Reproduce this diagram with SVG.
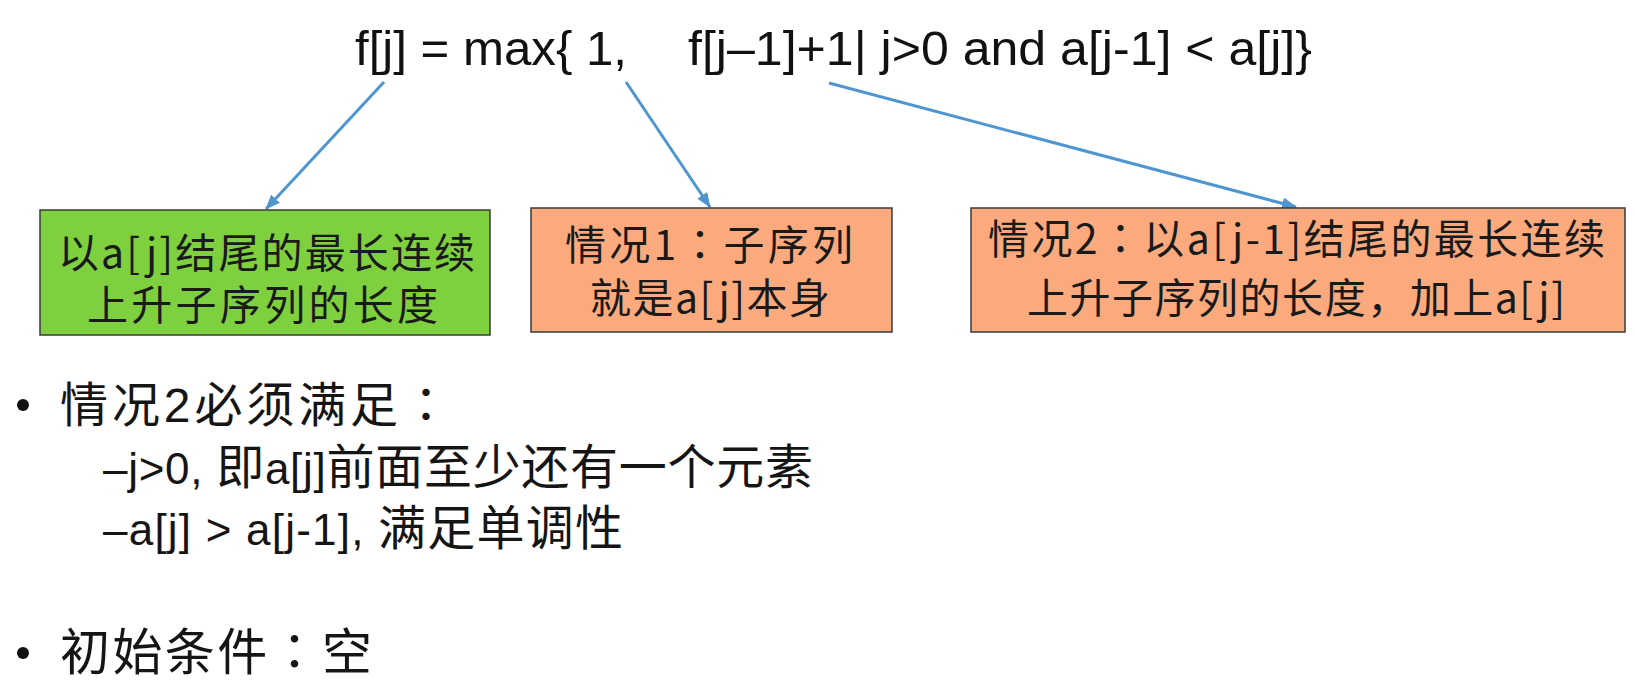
<svg xmlns="http://www.w3.org/2000/svg" width="1635" height="689" viewBox="0 0 1635 689">
<style>
.formula{font-family:"Liberation Sans",Arial,sans-serif;font-size:49px;fill:#111}
.box-green{fill:#7ED03F;stroke:#3a3a3a;stroke-width:1.5}
.box-orange{fill:#FBAA7E;stroke:#3a3a3a;stroke-width:1.5}
.boxtxt{font-family:"Noto Sans CJK SC","Noto Sans",sans-serif;font-size:41px;fill:#1a1a1a}
.bul{font-family:"Liberation Sans","Noto Sans CJK SC",sans-serif;font-size:48px;fill:#151515}
.lat{font-size:44px}
.col{font-family:"Noto Sans CJK TC",sans-serif}
.conn{stroke:#4F96D0;stroke-width:3;fill:none}
</style>
<defs>
<marker id="ah" markerUnits="userSpaceOnUse" markerWidth="16" markerHeight="12" refX="14" refY="6" orient="auto">
<path d="M0,0 L15,6 L0,12 z" fill="#4F96D0"/>
</marker>
</defs>
<rect width="1635" height="689" fill="#ffffff"/>
<g id="formula">
<text class="formula" x="355" y="65" textLength="272" lengthAdjust="spacingAndGlyphs">f[j] = max{ 1,</text>
<text class="formula" x="688" y="65" textLength="624" lengthAdjust="spacingAndGlyphs">f[j–1]+1| j&gt;0 and a[j-1] &lt; a[j]}</text>
</g>
<g id="connectors">
<line class="conn" x1="384" y1="82" x2="266" y2="209" marker-end="url(#ah)"/>
<line class="conn" x1="626" y1="82" x2="710" y2="207" marker-end="url(#ah)"/>
<line class="conn" x1="829" y1="83" x2="1296" y2="207" marker-end="url(#ah)"/>
</g>
<g id="node-green">
<rect class="box-green" x="40" y="210" width="450" height="125"/>
<text class="boxtxt" x="58" y="268" textLength="417" lengthAdjust="spacing">以a[j]结尾的最长连续</text>
<text class="boxtxt" x="87" y="320" textLength="351" lengthAdjust="spacing">上升子序列的长度</text>
</g>
<g id="node-case1">
<rect class="box-orange" x="531" y="208" width="361" height="124"/>
<text class="boxtxt" x="565" y="260" textLength="288" lengthAdjust="spacing">情况1<tspan class="col">：</tspan>子序列</text>
<text class="boxtxt" x="590" y="313" textLength="240" lengthAdjust="spacing">就是a[j]本身</text>
</g>
<g id="node-case2">
<rect class="box-orange" x="971" y="208" width="654" height="124"/>
<text class="boxtxt" x="988" y="254" textLength="617" lengthAdjust="spacing">情况2<tspan class="col">：</tspan>以a[j-1]结尾的最长连续</text>
<text class="boxtxt" x="1027" y="313" textLength="538" lengthAdjust="spacing">上升子序列的长度，加上a[j]</text>
</g>
<g id="bullets">
<circle cx="23" cy="405" r="6" fill="#111"/>
<text class="bul" x="60" y="422" textLength="390" lengthAdjust="spacing">情况2必须满足<tspan class="col">：</tspan></text>
<text class="bul" x="103" y="484" textLength="710" lengthAdjust="spacing"><tspan class="lat">–j&gt;0, </tspan>即<tspan class="lat">a[j]</tspan>前面至少还有一个元素</text>
<text class="bul" x="103" y="545" textLength="520" lengthAdjust="spacing"><tspan class="lat">–a[j] &gt; a[j-1], </tspan>满足单调性</text>
<circle cx="23" cy="653" r="6" fill="#111"/>
<text class="bul" x="60" y="670" style="font-size:50px" textLength="312" lengthAdjust="spacing">初始条件<tspan class="col">：</tspan>空</text>
</g>
</svg>
